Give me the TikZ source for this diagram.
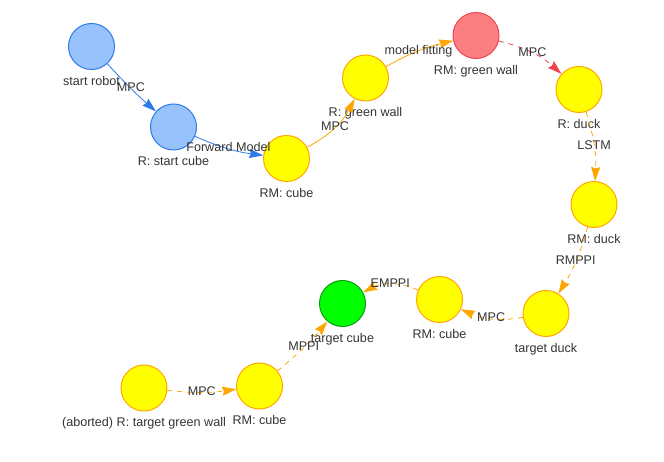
\documentclass[tikz,border=0pt]{standalone}
\usepackage{fontspec}
\setmainfont{Liberation Sans}
\usepackage{tikz}
\usetikzlibrary{positioning}
\usetikzlibrary{arrows.meta}
\definecolor{vblue}{HTML}{97C2FC}
\definecolor{vblueline}{HTML}{2B7CE9}
\definecolor{vyellow}{HTML}{FFFF00}
\definecolor{vorange}{HTML}{FFA500}
\definecolor{vred}{HTML}{FB7E81}
\definecolor{vredline}{HTML}{F04550}
\definecolor{vgreen}{HTML}{00FF00}
\definecolor{vgreenline}{HTML}{0E9A0E}
\definecolor{vtext}{HTML}{343434}
\tikzset{>={Stealth[length=14pt,width=9pt,inset=1.5pt]}}
\tikzstyle{basenode}=[shape=circle,line width=1pt,minimum size=46pt,inner sep=0pt]
\tikzstyle{bnode}=[basenode,draw=vblueline,fill=vblue]
\tikzstyle{ynode}=[basenode,draw=vorange,fill=vyellow]
\tikzstyle{rnode}=[basenode,draw=vredline,fill=vred]
\tikzstyle{gnode}=[basenode,draw=vgreenline,fill=vgreen]
\tikzstyle{nlabel}=[text=vtext,font=\fontsize{12.6}{14}\selectfont,inner sep=0pt,text height=9pt,text depth=2.5pt]
\tikzstyle{elabel}=[nlabel,midway]
\tikzstyle{baro}=[->,line width=0.8pt,color=vblueline]
\tikzstyle{oaro}=[->,line width=0.8pt,color=vorange]
\tikzstyle{odash}=[oaro,dash pattern=on 5pt off 5pt]
\tikzstyle{rdash}=[->,line width=0.8pt,color=vredline,dash pattern=on 5pt off 5pt]
\tikzset{every label/.style={label distance=6pt}}

\begin{document}
\begin{tikzpicture}[x=1pt,y=1pt]
	\useasboundingbox (0,0) rectangle (664,462);

	% Top chain
	\node[bnode, label={[nlabel]below:{start robot}}] (robot) at (91.5, 415.5) {};
	\node[bnode, label={[nlabel]below:{R: start cube}}] (startcube) at (173.5, 335) {};
	\node[ynode, label={[nlabel]below:{RM: cube}}] (rmcubea) at (286.5, 303.5) {};
	\node[ynode, label={[nlabel]below:{R: green wall}}] (greenwall) at (365.5, 384) {};
	\node[rnode, label={[nlabel]below:{RM: green wall}}] (rmwall) at (476, 426.5) {};
	\node[ynode, label={[nlabel]below:{R: duck}}] (duck) at (579, 372.5) {};
	\draw[baro] (robot) to[bend right=3] node[elabel] {MPC} (startcube);
	\draw[baro] (startcube) to[bend right=8] node[elabel] {Forward Model} (rmcubea);
	\draw[oaro] (rmcubea) to[bend right=17] node[elabel] {MPC} (greenwall);
	\draw[oaro] (greenwall) to[bend left=8] node[elabel] {model fitting} (rmwall);
	\draw[rdash] (rmwall) to[bend left=14] node[elabel] {MPC} (duck);

	% Right and bottom chain
	\node[ynode, label={[nlabel]below:{RM: duck}}] (rmduck) at (594, 257.5) {};
	\node[ynode, label={[nlabel]below:{target duck}}] (targetduck) at (546, 148.5) {};
	\node[ynode, label={[nlabel]below:{RM: cube}}] (rmcubeb) at (439.5, 162.5) {};
	\node[gnode, label={[nlabel]below:{target cube}}] (targetcube) at (342.5, 158.5) {};
	\node[ynode, label={[nlabel]below:{RM: cube}}] (rmcubec) at (259.5, 76) {};
	\node[ynode, label={[nlabel]below:{(aborted) R: target green wall}}] (aborted) at (144, 74) {};
	\draw[odash] (duck) to[bend left=10] node[elabel] {LSTM} (rmduck);
	\draw[odash] (rmduck) to[bend left=8] node[elabel] {RMPPI} (targetduck);
	\draw[odash] (targetduck) to[bend left=17] node[elabel] {MPC} (rmcubeb);
	\draw[odash] (rmcubeb) to[bend right=26] node[elabel] {EMPPI} (targetcube);
	\draw[odash] (rmcubec) to[bend right=5] node[elabel] {MPPI} (targetcube);
	\draw[odash] (aborted) to[bend right=7] node[elabel] {MPC} (rmcubec);

\end{tikzpicture}
\end{document}
